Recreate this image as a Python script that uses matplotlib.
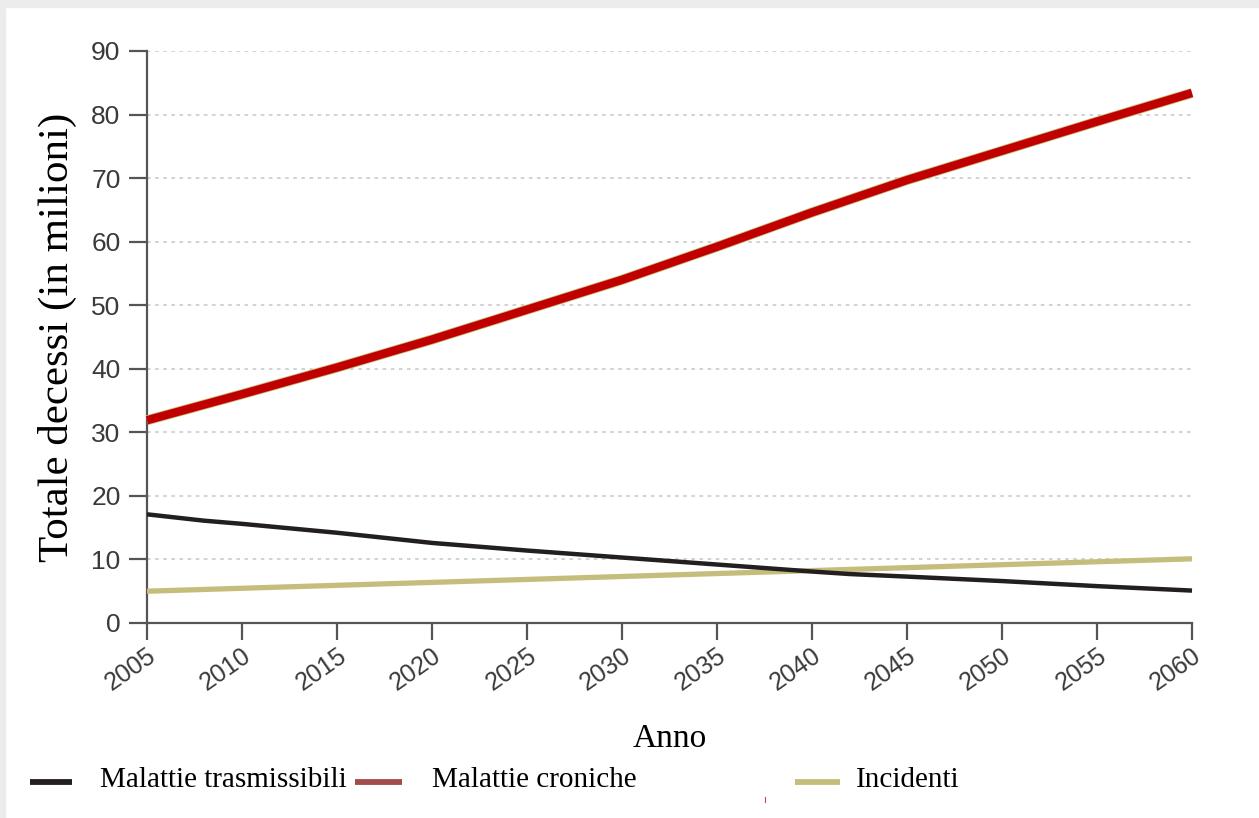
import matplotlib
matplotlib.use("Agg")
import matplotlib.pyplot as plt
from matplotlib.lines import Line2D
from matplotlib.patches import Rectangle

# data (millions of deaths)
anni_croniche = [2005, 2010, 2015, 2020, 2025, 2030, 2035, 2040, 2045, 2050, 2055, 2060]
croniche = [31.9, 36.0, 40.2, 44.6, 49.3, 54.0, 59.2, 64.6, 69.7, 74.3, 78.9, 83.4]

anni_trasm = [2005, 2008, 2010, 2015, 2020, 2025, 2030, 2035, 2040, 2042, 2045, 2050, 2055, 2060]
trasmissibili = [17.1, 16.1, 15.6, 14.2, 12.6, 11.4, 10.3, 9.2, 8.1, 7.7, 7.3, 6.6, 5.8, 5.1]

anni_incidenti = [2005, 2060]
incidenti = [5.0, 10.1]

xticks = list(range(2005, 2061, 5))
yticks = list(range(0, 91, 10))

c_trasm = "#231f20"
c_cron = "#c00000"
c_cron_leg = "#a24c4c"
c_inc = "#c5bd7b"
c_axis = "#555555"
c_tick = "#3a3a3a"
serif = ["Liberation Serif", "DejaVu Serif"]
sans = ["Liberation Sans", "DejaVu Sans"]

fig = plt.figure(figsize=(12.59, 8.18), dpi=100)
fig.patch.set_facecolor("white")
# light grey page edge at top and left
fig.patches.append(Rectangle((0, 1 - 7 / 818), 1, 7 / 818, transform=fig.transFigure,
                             color="#ececec", zorder=0))
fig.patches.append(Rectangle((0, 0), 5 / 1259, 1, transform=fig.transFigure,
                             color="#ececec", zorder=0))

ax = fig.add_axes([147 / 1259, 1 - 623 / 818, (1192 - 147) / 1259, (623 - 51) / 818])
ax.set_xlim(2005, 2060)
ax.set_ylim(0, 90)

for y in yticks[1:]:
    ax.axhline(y, color="#cfcfcf", lw=1.3, ls=(0, (2, 2.5)), zorder=1)

ax.plot(anni_incidenti, incidenti, color=c_inc, lw=3.8, solid_capstyle="butt", zorder=3, clip_on=False)
ax.plot(anni_trasm, trasmissibili, color=c_trasm, lw=3.2, solid_capstyle="butt", zorder=4, clip_on=False)
ax.plot(anni_croniche, croniche, color=c_inc, lw=7.2, solid_capstyle="butt", zorder=4, clip_on=False)
ax.plot(anni_croniche, croniche, color=c_cron, lw=6.0, solid_capstyle="butt", zorder=5, clip_on=False)

for side in ["top", "right"]:
    ax.spines[side].set_visible(False)
for side in ["left", "bottom"]:
    ax.spines[side].set_color(c_axis)
    ax.spines[side].set_linewidth(1.6)

ax.set_xticks(xticks)
ax.set_yticks(yticks)
ax.tick_params(axis="both", colors=c_axis, width=1.6, labelcolor=c_tick)
ax.tick_params(axis="y", length=13, pad=6, labelsize=19)
ax.tick_params(axis="x", length=12, pad=3, labelsize=18)
for lab in ax.get_yticklabels() + ax.get_xticklabels():
    lab.set_family(sans)
for lab in ax.get_xticklabels():
    lab.set_rotation(35)
    lab.set_ha("right")
    lab.set_rotation_mode("anchor")

ax.set_ylabel("Totale decessi (in milioni)", family=serif, fontsize=31, labelpad=10)
ax.set_xlabel("Anno", family=serif, fontsize=24, labelpad=20)

# custom legend row below the axes
def fx(px):
    return px / 1259

def fy(py):
    return 1 - py / 818

legend_items = [
    ("Malattie trasmissibili", c_trasm, 30, 72, 100),
    ("Malattie croniche", c_cron_leg, 355, 402, 432),
    ("Incidenti", c_inc, 795, 840, 856),
]
for label, col, x0, x1, xt in legend_items:
    fig.add_artist(Line2D([fx(x0), fx(x1)], [fy(782), fy(782)], color=col, lw=4.2,
                          solid_capstyle="butt", transform=fig.transFigure))
    fig.text(fx(xt), fy(780), label, family=serif, fontsize=21, va="center", ha="left")

fig.add_artist(Line2D([fx(765), fx(765)], [fy(797), fy(802)], color="#c05050", lw=0.8,
                      transform=fig.transFigure))

fig.savefig("out.png", dpi=100)
